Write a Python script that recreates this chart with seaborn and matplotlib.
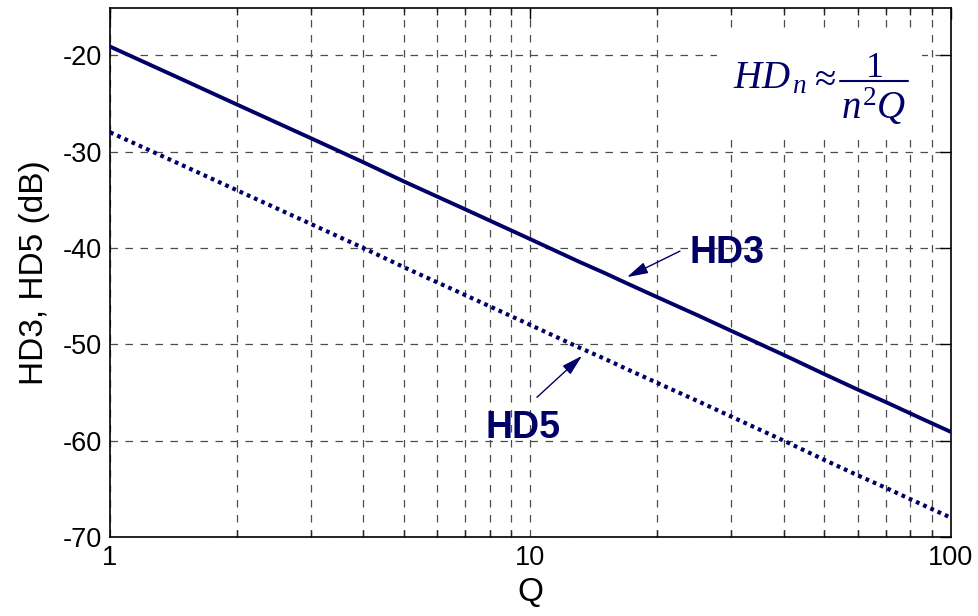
import numpy as np
import pandas as pd
import matplotlib
matplotlib.use("Agg")
import matplotlib.pyplot as plt
import seaborn as sns
from matplotlib.patches import Rectangle
from matplotlib.lines import Line2D
from matplotlib.ticker import FixedLocator, NullFormatter

# ---- data ----
q_values = [1, 1.5, 2, 3, 4, 5, 7, 10, 13, 15, 17, 20, 25, 30, 40, 50, 60, 70, 85, 100]
hd3_db = [-19.1, -22.6, -25.1, -28.6, -31.1, -33.1, -36.0, -39.1, -41.4, -42.6, -43.7,
          -45.1, -47.0, -48.6, -51.1, -53.1, -54.7, -56.0, -57.7, -59.1]
hd5_db = [-28.0, -31.5, -34.0, -37.5, -40.0, -42.0, -44.9, -48.0, -50.3, -51.5, -52.6,
          -54.0, -55.9, -57.5, -60.0, -62.0, -63.6, -64.9, -66.6, -68.0]
y_ticks = [-70, -60, -50, -40, -30, -20]
x_ticks = [1, 10, 100]
x_tick_labels = ["1", "10", "100"]

df = pd.DataFrame({"Q": q_values + q_values,
                   "dB": hd3_db + hd5_db,
                   "series": ["HD3"] * len(q_values) + ["HD5"] * len(q_values)})

sns.set_theme(style="white")
plt.rcParams["font.family"] = ["Liberation Sans", "DejaVu Sans"]
plt.rcParams["mathtext.fontset"] = "custom"
plt.rcParams["mathtext.it"] = "Liberation Serif:italic"
plt.rcParams["mathtext.rm"] = "Liberation Serif"
plt.rcParams["axes.axisbelow"] = True
plt.rcParams["text.color"] = "black"
plt.rcParams["axes.labelcolor"] = "black"

navy = "#000066"

fig = plt.figure(figsize=(9.79, 6.16), dpi=100)
ax = fig.add_axes([110 / 979, 1 - 537 / 616, 841 / 979, 529 / 616])

sns.lineplot(data=df[df.series == "HD3"], x="Q", y="dB", ax=ax, color=navy,
             linewidth=2.8, linestyle="-", zorder=3)
sns.lineplot(data=df[df.series == "HD5"], x="Q", y="dB", ax=ax, color=navy,
             linewidth=3.0, linestyle=(0, (0.9, 1.0)), zorder=3)

ax.set_xscale("log")
ax.set_xlim(1, 100)
ax.set_ylim(-70, -15.1)
ax.set_xticks(x_ticks)
ax.set_xticklabels(x_tick_labels)
ax.xaxis.set_minor_locator(FixedLocator([m * d for d in (1, 10) for m in range(2, 10)]))
ax.xaxis.set_minor_formatter(NullFormatter())
ax.set_yticks(y_ticks)
ax.set_yticklabels([str(v) for v in y_ticks])

ax.grid(True, which="major", axis="both", color="#4d4d4d", linestyle=(0, (6, 6)), linewidth=0.9)
ax.grid(True, which="minor", axis="x", color="#4d4d4d", linestyle=(0, (6, 6)), linewidth=0.9)

ax.tick_params(axis="both", which="major", direction="in", length=8, width=1,
               top=True, right=True, labelsize=19.5, colors="black", pad=6)
ax.tick_params(axis="x", which="minor", direction="in", length=5, width=1,
               top=True, bottom=True)
for s in ax.spines.values():
    s.set_color("black")
    s.set_linewidth(1.2)

ax.set_xlabel("Q", fontsize=24, labelpad=4, color="black")
ax.set_ylabel("HD3, HD5 (dB)", fontsize=24, labelpad=9, color="black")

# white box behind formula
ax.add_patch(Rectangle((0.722, 0.756), 0.2435, 0.206, transform=ax.transAxes,
                       facecolor="white", edgecolor="none", zorder=1))


def axx(px):
    return (px - 110) / 841


def axy(py):
    return (537 - py) / 529


fs_f = 28
ax.text(axx(733), axy(88), r"$HD_{\,n}$", transform=ax.transAxes, ha="left", va="baseline",
        fontsize=fs_f, color=navy, zorder=4)
ax.text(axx(823), axy(79), r"$\approx$", transform=ax.transAxes, ha="center", va="center",
        fontsize=fs_f, color=navy, zorder=4)
ax.text(axx(874), axy(77), r"$\mathrm{1}$", transform=ax.transAxes, ha="center", va="baseline",
        fontsize=26, color=navy, zorder=4)
ax.add_line(Line2D([axx(840), axx(908)], [axy(81), axy(81)], transform=ax.transAxes,
                   color=navy, linewidth=1.5, zorder=4))
ax.text(axx(874), axy(119), r"$n^2Q$", transform=ax.transAxes, ha="center", va="baseline",
        fontsize=fs_f, color=navy, zorder=4)

# labels with arrows
arrow_kw = dict(arrowstyle="-|>,head_length=0.8,head_width=0.22", color=navy, lw=1.0,
                shrinkA=0, shrinkB=0, mutation_scale=16)
ax.annotate("", xy=(16.96, -43.03), xytext=(22.67, -40.33), arrowprops=arrow_kw, zorder=5)
ax.annotate("", xy=(13.26, -51.2), xytext=(10.36, -55.5), arrowprops=arrow_kw, zorder=5)
ax.text(23.9, -40.5, "HD3", fontsize=27, fontweight="bold", color=navy,
        ha="left", va="center", zorder=5)
ax.text(9.6, -58.7, "HD5", fontsize=27, fontweight="bold", color=navy,
        ha="center", va="center", zorder=5)

fig.savefig("out.png", dpi=100)
